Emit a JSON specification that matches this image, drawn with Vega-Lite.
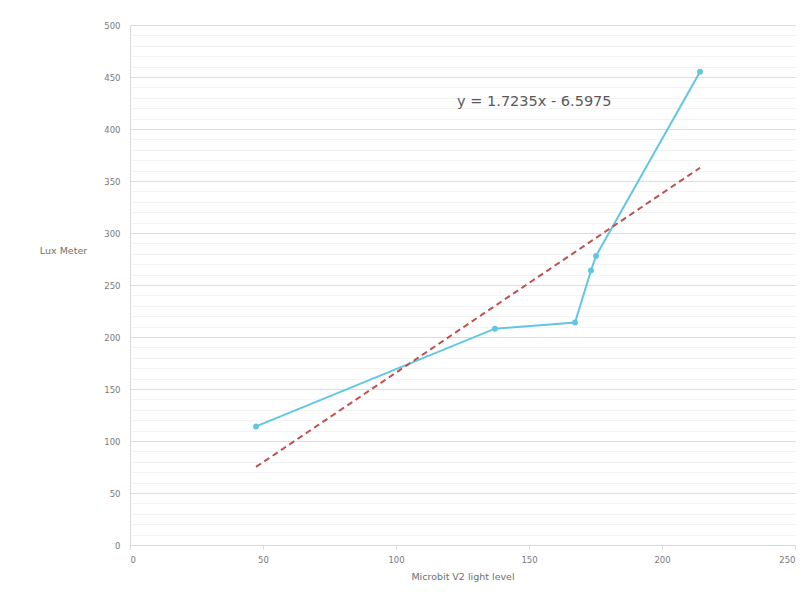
{
  "$schema": "https://vega.github.io/schema/vega-lite/v6.json",
  "width": 665,
  "height": 520,
  "autosize": "none",
  "padding": {"left": 130, "top": 25, "right": 14, "bottom": 57},
  "background": "white",
  "config": {"view": {"stroke": null}, "font": "DejaVu Sans"},
  "datasets": {
    "measured": [
      {"light": 47.4, "lux": 114},
      {"light": 137.2, "lux": 208},
      {"light": 167.3, "lux": 214},
      {"light": 173.3, "lux": 264},
      {"light": 175.2, "lux": 278},
      {"light": 214.3, "lux": 455}
    ],
    "trend": [
      {"light": 47.4, "lux": 75.1},
      {"light": 214.3, "lux": 362.7}
    ],
    "label": [
      {"light": 152, "lux": 426, "text": "y = 1.7235x - 6.5975"}
    ]
  },
  "encoding": {
    "x": {
      "field": "light", "type": "quantitative",
      "scale": {"domain": [0, 250], "nice": false},
      "axis": {
        "title": "Microbit V2 light level",
        "values": [0, 50, 100, 150, 200, 250],
        "grid": false,
        "domainColor": "#d9d9d9",
        "tickColor": "#d9d9d9",
        "tickSize": 4,
        "labelColor": "#7a7a7a",
        "labelFontSize": 8.5,
        "labelPadding": 6,
        "labelOverlap": false,
        "titleColor": "#6f6f6f",
        "titleFontSize": 9.5,
        "titleFontWeight": "normal",
        "titlePadding": 8
      }
    },
    "y": {
      "field": "lux", "type": "quantitative",
      "scale": {"domain": [0, 500], "nice": false},
      "axis": {
        "title": "Lux Meter",
        "values": [0,10,20,30,40,50,60,70,80,90,100,110,120,130,140,150,160,170,180,190,200,210,220,230,240,250,260,270,280,290,300,310,320,330,340,350,360,370,380,390,400,410,420,430,440,450,460,470,480,490,500],
        "labelExpr": "datum.value % 50 === 0 ? datum.label : ''",
        "labelOverlap": false,
        "grid": true,
        "gridColor": {"condition": {"test": "datum.value % 50 === 0", "value": "#dcdcdc"}, "value": "#f3f3f3"},
        "gridWidth": 1,
        "ticks": false,
        "domainColor": "#d9d9d9",
        "labelColor": "#7a7a7a",
        "labelFontSize": 8.5,
        "labelPadding": 10,
        "titleAngle": 0,
        "titleAlign": "center",
        "titleBaseline": "middle",
        "titleX": -67,
        "titleY": 225,
        "titleColor": "#6f6f6f",
        "titleFontSize": 9.5,
        "titleFontWeight": "normal"
      }
    }
  },
  "layer": [
    {
      "data": {"name": "measured"},
      "mark": {"type": "line", "color": "#62c6e3", "strokeWidth": 2, "point": {"filled": true, "color": "#62c6e3", "size": 35}}
    },
    {
      "data": {"name": "trend"},
      "mark": {"type": "line", "color": "#c0504d", "strokeWidth": 2, "strokeDash": [6, 4]}
    },
    {
      "data": {"name": "label"},
      "mark": {"type": "text", "font": "DejaVu Sans", "fontSize": 14.5, "color": "#595959", "align": "center", "baseline": "middle"},
      "encoding": {
        "text": {"field": "text"}
      }
    }
  ]
}
